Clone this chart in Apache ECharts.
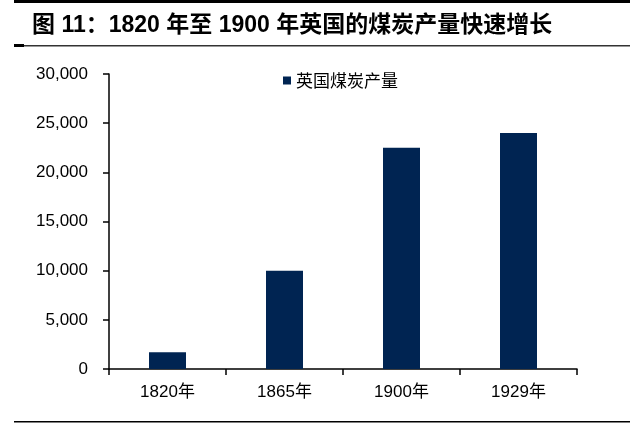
<!DOCTYPE html>
<html>
<head>
    <meta charset="utf-8">
    <title>英国煤炭产量</title>
    <script src="https://cdn.jsdelivr.net/npm/echarts@6/dist/echarts.min.js"></script>
    <style>
        html, body { margin: 0; padding: 0; background: #fff; }
        #main { width: 640px; height: 424px; }
    </style>
</head>
<body>
  <div id="main"></div>
  <script>
      // 数据
      var years = ['1820年', '1865年', '1900年', '1929年'];
      var coalOutput = [1700, 10000, 22500, 24000];
      var seriesName = '英国煤炭产量';
      var titleText = '图 11：1820 年至 1900 年英国的煤炭产量快速增长';

      var myChart = echarts.init(document.getElementById('main'));

      var option = {
          backgroundColor: '#fff',
          animation: false,
          title: {
              text: titleText,
              left: 27,
              top: 9,
              textStyle: {
                  fontFamily: 'Liberation Sans, Noto Sans CJK SC',
                  fontSize: 23,
                  fontWeight: 'bold',
                  color: '#000'
              }
          },
          graphic: [
              { type: 'rect', shape: { x: 14, y: 0, width: 616, height: 3 }, style: { fill: '#000' } },
              { type: 'rect', shape: { x: 14, y: 45, width: 616, height: 1.5 }, style: { fill: '#333' } },
              { type: 'rect', shape: { x: 14, y: 44, width: 10, height: 3 }, style: { fill: '#000' } },
              { type: 'rect', shape: { x: 14, y: 421, width: 616, height: 1.5 }, style: { fill: '#000' } }
          ],
          legend: {
              data: [seriesName],
              left: 278,
              top: 67,
              itemWidth: 8,
              itemHeight: 8,
              itemGap: 4,
              icon: 'rect',
              textStyle: {
                  fontFamily: 'Noto Sans CJK SC',
                  fontSize: 17,
                  color: '#000'
              }
          },
          grid: {
              left: 109,
              right: 63,
              top: 74,
              bottom: 55
          },
          xAxis: {
              type: 'category',
              data: years,
              axisLine: { lineStyle: { color: '#000', width: 1.5 } },
              axisTick: { show: true, length: 6, lineStyle: { color: '#000', width: 1.5 } },
              axisLabel: {
                  margin: 15,
                  color: '#000',
                  fontFamily: 'Liberation Sans, Noto Sans CJK SC',
                  fontSize: 17
              }
          },
          yAxis: {
              type: 'value',
              min: 0,
              max: 30000,
              interval: 5000,
              splitLine: { show: false },
              axisLine: { show: true, lineStyle: { color: '#000', width: 1.5 } },
              axisTick: { show: true, length: 6, lineStyle: { color: '#000', width: 1.5 } },
              axisLabel: {
                  margin: 21,
                  color: '#000',
                  fontFamily: 'Liberation Sans',
                  fontSize: 17,
                  formatter: function (v) { return v.toLocaleString('en-US'); }
              }
          },
          series: [{
              name: seriesName,
              type: 'bar',
              data: coalOutput,
              barWidth: 37,
              itemStyle: { color: '#002452' }
          }]
      };

      myChart.setOption(option);
  </script>
</body>
</html>
